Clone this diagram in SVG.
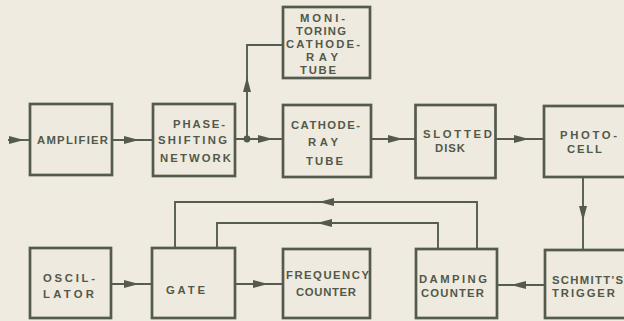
<svg xmlns="http://www.w3.org/2000/svg" xmlns:xlink="http://www.w3.org/1999/xlink" width="624" height="321" viewBox="0 0 624 321">
<style>
.bg{fill:#efebe0}
.box{fill:#eeeadf;stroke:#545b4d;stroke-width:2.7}
.wire{fill:none;stroke:#565d4f;stroke-width:1.9}
.arr{fill:#545b4d}
text{font-family:"Liberation Sans","DejaVu Sans",Arial,sans-serif;font-weight:bold;font-size:11.3px;fill:#525949}
</style>
<defs>
<polygon id="ah" points="0,0 -15,-4 -15,4"/>
</defs>
<rect class="bg" x="0" y="0" width="624" height="321"/>

<g id="connectors">
<polyline class="wire" points="8,140 30,140"/>
<polyline class="wire" points="112,140 153,140"/>
<polyline class="wire" points="235,139 283,139"/>
<polyline class="wire" points="247,139 247,45 283,45"/>
<polyline class="wire" points="371,139 415,139"/>
<polyline class="wire" points="496,139 544,139"/>
<polyline class="wire" points="583,177 583,250"/>
<polyline class="wire" points="545,285 497,285"/>
<polyline class="wire" points="111,284 152,284"/>
<polyline class="wire" points="235,284 283,284"/>
<polyline class="wire" points="477,249 477,202 175,202 175,248"/>
<polyline class="wire" points="438,249 438,223 217,223 217,248"/>
<circle class="arr" cx="247" cy="139" r="3.4"/>
<g class="arr">
<use xlink:href="#ah" transform="translate(24,140)"/>
<use xlink:href="#ah" transform="translate(139,140)"/>
<use xlink:href="#ah" transform="translate(273,139)"/>
<use xlink:href="#ah" transform="translate(247,77) rotate(-90)"/>
<use xlink:href="#ah" transform="translate(403,139)"/>
<use xlink:href="#ah" transform="translate(529,139)"/>
<use xlink:href="#ah" transform="translate(583,221) rotate(90)"/>
<use xlink:href="#ah" transform="translate(511,285) rotate(180)"/>
<use xlink:href="#ah" transform="translate(139,284)"/>
<use xlink:href="#ah" transform="translate(268,284)"/>
<use xlink:href="#ah" transform="translate(319,202) rotate(180)"/>
<use xlink:href="#ah" transform="translate(317,223) rotate(180)"/>
</g>
</g>

<g id="amplifier">
<rect class="box" x="30" y="104" width="82" height="71"/>
<text x="37" y="144" textLength="71" lengthAdjust="spacing">AMPLIFIER</text>
</g>

<g id="phase-shifting">
<rect class="box" x="153" y="104" width="82" height="72"/>
<text x="173" y="128" textLength="52" lengthAdjust="spacing">PHASE-</text>
<text x="158" y="144" textLength="69" lengthAdjust="spacing">SHIFTING</text>
<text x="160" y="162" textLength="71" lengthAdjust="spacing">NETWORK</text>
</g>

<g id="monitoring-crt">
<rect class="box" x="283" y="7" width="87" height="71"/>
<text x="300" y="22" textLength="45" lengthAdjust="spacing">MONI-</text>
<text x="296" y="35" textLength="50" lengthAdjust="spacing">TORING</text>
<text x="286" y="48" textLength="74" lengthAdjust="spacing">CATHODE-</text>
<text x="306" y="61" textLength="32" lengthAdjust="spacing">RAY</text>
<text x="300" y="74" textLength="36" lengthAdjust="spacing">TUBE</text>
</g>

<g id="crt">
<rect class="box" x="283" y="105" width="88" height="72"/>
<text x="291" y="129" textLength="69" lengthAdjust="spacing">CATHODE-</text>
<text x="308" y="146" textLength="30" lengthAdjust="spacing">RAY</text>
<text x="306" y="165" textLength="37" lengthAdjust="spacing">TUBE</text>
</g>

<g id="slotted-disk">
<rect class="box" x="415.5" y="105" width="80" height="73"/>
<text x="423" y="138" textLength="69" lengthAdjust="spacing">SLOTTED</text>
<text x="435" y="152" textLength="30" lengthAdjust="spacing">DISK</text>
</g>

<g id="photo-cell">
<rect class="box" x="544" y="106" width="110" height="71"/>
<text x="560" y="139" textLength="57" lengthAdjust="spacing">PHOTO-</text>
<text x="567" y="153" textLength="35" lengthAdjust="spacing">CELL</text>
</g>

<g id="oscillator">
<rect class="box" x="30" y="248" width="81" height="70"/>
<text x="43" y="282" textLength="52" lengthAdjust="spacing">OSCIL-</text>
<text x="43" y="298" textLength="51" lengthAdjust="spacing">LATOR</text>
</g>

<g id="gate">
<rect class="box" x="152" y="248" width="83" height="70"/>
<text x="166" y="294" textLength="39" lengthAdjust="spacing">GATE</text>
</g>

<g id="frequency-counter">
<rect class="box" x="283" y="249" width="87" height="69"/>
<text x="286" y="279" textLength="83" lengthAdjust="spacing">FREQUENCY</text>
<text x="296" y="296" textLength="60" lengthAdjust="spacing">COUNTER</text>
</g>

<g id="damping-counter">
<rect class="box" x="416" y="249" width="81" height="69"/>
<text x="419" y="283" textLength="68" lengthAdjust="spacing">DAMPING</text>
<text x="421" y="297" textLength="63" lengthAdjust="spacing">COUNTER</text>
</g>

<g id="schmitt-trigger">
<rect class="box" x="545" y="250" width="110" height="68"/>
<text x="552" y="284" textLength="71" lengthAdjust="spacing">SCHMITT'S</text>
<text x="552" y="297" textLength="63" lengthAdjust="spacing">TRIGGER</text>
</g>
</svg>
